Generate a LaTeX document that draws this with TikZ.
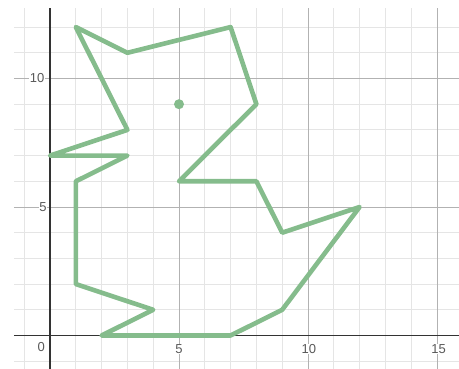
\documentclass[tikz,border=0pt]{standalone}
\usepackage{fontspec}
\setmainfont{Liberation Sans}
\begin{document}
\begin{tikzpicture}[x=25.8pt,y=25.7pt,
  minorgrid/.style={draw=black!10,line width=0.9pt},
  majorgrid/.style={draw=black!30,line width=0.9pt},
  axisline/.style={draw=black!80,line width=1.1pt},
  outline/.style={draw=shapegreen,line width=4.6pt,line join=round,line cap=round},
  ticklabel/.style={font=\fontsize{13}{13}\selectfont,text=black!65,fill=white,inner sep=0.6pt}]
\definecolor{shapegreen}{RGB}{133,188,140}
\useasboundingbox (-1.938,-1.3035) rectangle (15.853,13.054);
% minor grid
\foreach \i in {-1,1,2,3,4,6,7,8,9,11,12,13,14}
  \draw[minorgrid] (\i,-1.31) -- (\i,12.74);
\foreach \j in {-1,1,2,3,4,6,7,8,9,11,12}
  \draw[minorgrid] (-1.4,\j) -- (15.86,\j);
% major grid
\foreach \i in {5,10,15}
  \draw[majorgrid] (\i,-1.31) -- (\i,12.74);
\foreach \j in {5,10}
  \draw[majorgrid] (-1.4,\j) -- (15.86,\j);
% axes
\draw[axisline] (0,-1.31) -- (0,12.74);
\draw[axisline] (-1.4,0) -- (15.86,0);
% labels
\node[ticklabel] (l0) at (-0.34,-0.44) {0};
\node[ticklabel] (l5) at (5,-0.52) {5};
\node[ticklabel] (l10) at (10.03,-0.52) {10};
\node[ticklabel] (l15) at (15.06,-0.52) {15};
\node[ticklabel] (ly5) at (-0.27,5) {5};
\node[ticklabel] (ly10) at (-0.5,10) {10};
% shape
\draw[outline]
  (1,12) -- (3,8) -- (0,7) -- (3,7) -- (1,6) -- (1,2) -- (4,1) -- (2,0) -- (7,0)
  -- (9,1) -- (12,5) -- (9,4) -- (8,6) -- (5,6) -- (8,9) -- (7,12) -- (3,11) -- cycle;
\fill[shapegreen] (5,9) circle (5pt);
\end{tikzpicture}
\end{document}
